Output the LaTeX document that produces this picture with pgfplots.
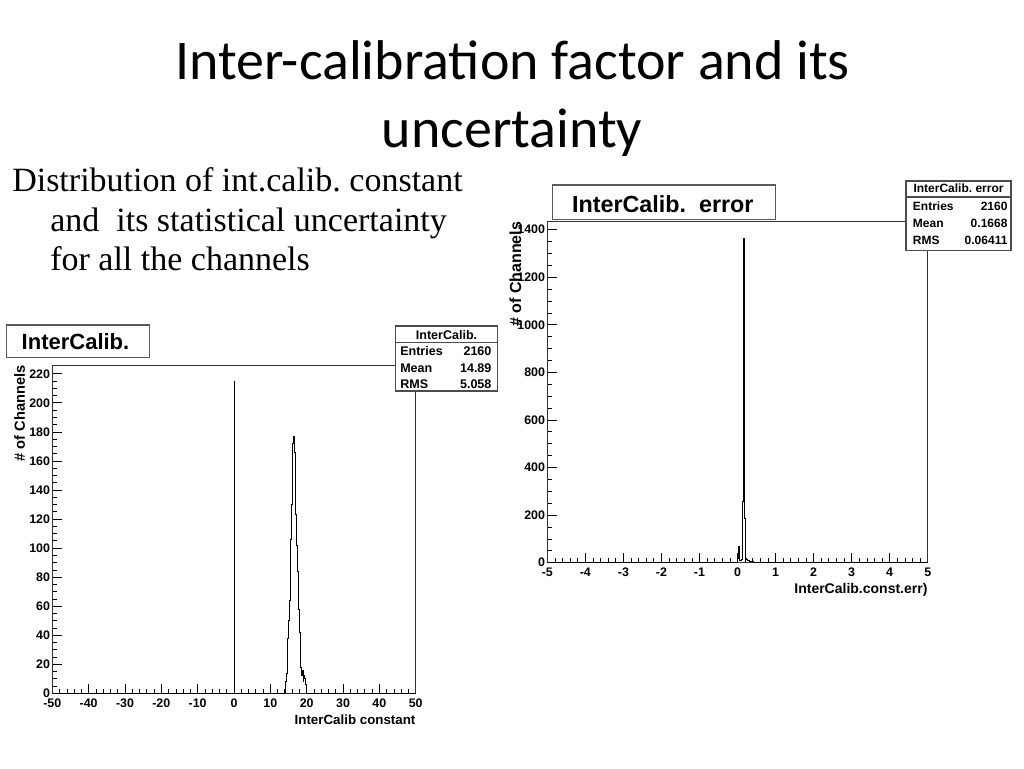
\documentclass[border=0pt]{standalone}
\usepackage{fontspec}
\setmainfont{Liberation Sans}
\newfontfamily\titlefont{Carlito}
\newfontfamily\serif{Liberation Serif}
\usepackage{pgfplots}
\pgfplotsset{compat=1.18}
\frenchspacing

% ROOT-like histogram frame
\pgfplotsset{root/.style={
  scale only axis, anchor=south west,
  axis line style={black!80, line width=0.7pt},
  tick align=inside, xtick pos=left, ytick pos=left,
  tick style={black, line width=0.5pt},
  major tick length=7pt, minor tick length=3.5pt,
  tick label style={font=\fontsize{9.3}{11}\selectfont\bfseries},
  xticklabel style={text height=7pt, text depth=0pt},
  yticklabel style={inner sep=1.5pt},
  /pgf/number format/assume math mode=true,
  /pgf/number format/1000 sep={},
  scaled ticks=false,
  xlabel style={anchor=north east, inner sep=0pt},
  ylabel style={anchor=base east, inner sep=0pt},
}}

\begin{document}
\begin{tikzpicture}
\path[fill=white, use as bounding box] (0,0) rectangle (768pt,576pt);

% left histogram: inter-calibration constant
\begin{axis}[root,
  at={(39.225pt,56.025pt)}, width=272.55pt, height=246.2pt,
  xmin=-50, xmax=50, ymin=0, ymax=226,
  xtick={-50,-40,...,50}, ytick={0,20,...,220},
  minor x tick num=4, minor y tick num=3,
  xlabel={InterCalib constant},
  xlabel style={at={(axis description cs:1,-0.066)}, font=\fontsize{10}{12}\selectfont\bfseries},
  ylabel={\# of Channels},
  ylabel style={at={(axis description cs:-0.0752,1)}, font=\fontsize{11}{13}\selectfont\bfseries},
]
\addplot[const plot, black, line width=0.6pt, mark=none] coordinates {
(-50,0) (0,215) (0.2,0) (13.8,0)
(14.0,3) (14.2,8) (14.4,14) (14.6,24) (14.8,38) (15.0,50) (15.2,64)
(15.4,80) (15.6,106) (15.8,130) (16.0,158) (16.2,172) (16.4,177)
(16.6,166) (16.8,146) (17.0,123) (17.2,102) (17.4,84) (17.6,70)
(17.8,58) (18.0,42) (18.2,28) (18.4,18) (18.6,12) (18.8,16) (19.0,8)
(19.2,12) (19.4,10) (19.6,6) (19.8,3) (20.0,0) (50,0)
};
\end{axis}

% right histogram: its error
\begin{axis}[root,
  at={(410.475pt,153.975pt)}, width=285.3pt, height=255.75pt,
  xmin=-5, xmax=5, ymin=0, ymax=1433,
  xtick={-5,-4,...,5}, ytick={0,200,...,1400},
  minor x tick num=4, minor y tick num=3,
  xlabel={InterCalib.const.err)},
  xlabel style={at={(axis description cs:1,-0.061)}, font=\fontsize{10.5}{12}\selectfont\bfseries},
  ylabel={\# of Channels},
  ylabel style={at={(axis description cs:-0.069,1)}, font=\fontsize{12}{14}\selectfont\bfseries},
]
\addplot[const plot, black, line width=0.6pt, mark=none] coordinates {
(-5,0) (0.00,18) (0.02,67) (0.04,25) (0.06,10) (0.08,8) (0.10,12)
(0.12,45) (0.14,259) (0.16,1363) (0.18,186) (0.20,40) (0.22,20)
(0.24,12) (0.26,10) (0.28,8) (0.30,6) (0.34,5) (0.38,4) (0.42,3)
(0.46,2) (0.50,0) (5,0)
};
\end{axis}

% slide text and ROOT boxes, in pixel coordinates (y down)
\begin{scope}[yshift=576pt, x=0.75pt, y=-0.75pt]
\node[anchor=base, inner sep=0, font=\titlefont\fontsize{42}{50}\selectfont] at (512.5,79.3) {Inter-calibration factor and its};
\node[anchor=base, inner sep=0, font=\titlefont\fontsize{42}{50}\selectfont] at (512,148) {uncertainty};

\node[anchor=base west, inner sep=0, font=\serif\fontsize{25.5}{30}\selectfont] at (12,191.7) {Distribution of int.calib. constant};
\node[anchor=base west, inner sep=0, font=\serif\fontsize{25.5}{30}\selectfont] at (50,232) {and~ its statistical uncertainty};
\node[anchor=base west, inner sep=0, font=\serif\fontsize{25.5}{30}\selectfont] at (50,271) {for all the channels};

% title boxes
\draw[black!65, line width=1pt, fill=white] (6.7,325) rectangle (149.3,357.7);
\node[anchor=base, inner sep=0, font=\fontsize{16.5}{18}\selectfont\bfseries] at (75.5,349.3) {InterCalib.};
\draw[black!65, line width=1pt, fill=white] (552.3,185) rectangle (775.3,219.3);
\node[anchor=base, inner sep=0, font=\fontsize{17.5}{19}\selectfont\bfseries] at (662.8,212.7) {InterCalib.~ error};

% stats boxes
\begin{scope}[font=\fontsize{9.4}{11}\selectfont\bfseries]
\draw[black!70, line width=0.8pt, fill=white] (395.7,326) rectangle (497.3,391);
\draw[black!70, line width=0.8pt] (395.7,342.7) -- (497.3,342.7);
\node[anchor=base, inner sep=0] at (446.5,339.3) {InterCalib.};
\node[anchor=base west, inner sep=0] at (400,356) {Entries};
\node[anchor=base east, inner sep=0] at (491.7,356) {2160};
\node[anchor=base west, inner sep=0] at (400,372.7) {Mean};
\node[anchor=base east, inner sep=0] at (491.7,372.7) {14.89};
\node[anchor=base west, inner sep=0] at (400,388.3) {RMS};
\node[anchor=base east, inner sep=0] at (491.7,388.3) {5.058};
\end{scope}
\begin{scope}[font=\fontsize{9}{11}\selectfont\bfseries]
\draw[black!70, line width=0.8pt, fill=white] (906,181) rectangle (1011,250.5);
\draw[black!70, line width=0.8pt] (906,197) -- (1011,197);
\node[anchor=base, inner sep=0] at (958.5,193) {InterCalib. error};
\node[anchor=base west, inner sep=0] at (912.7,210.5) {Entries};
\node[anchor=base east, inner sep=0] at (1007.7,210.5) {2160};
\node[anchor=base west, inner sep=0] at (912.7,228) {Mean};
\node[anchor=base east, inner sep=0] at (1007.7,228) {0.1668};
\node[anchor=base west, inner sep=0] at (912.7,245) {RMS};
\node[anchor=base east, inner sep=0] at (1007.7,245) {0.06411};
\end{scope}
\end{scope}
\end{tikzpicture}
\end{document}
